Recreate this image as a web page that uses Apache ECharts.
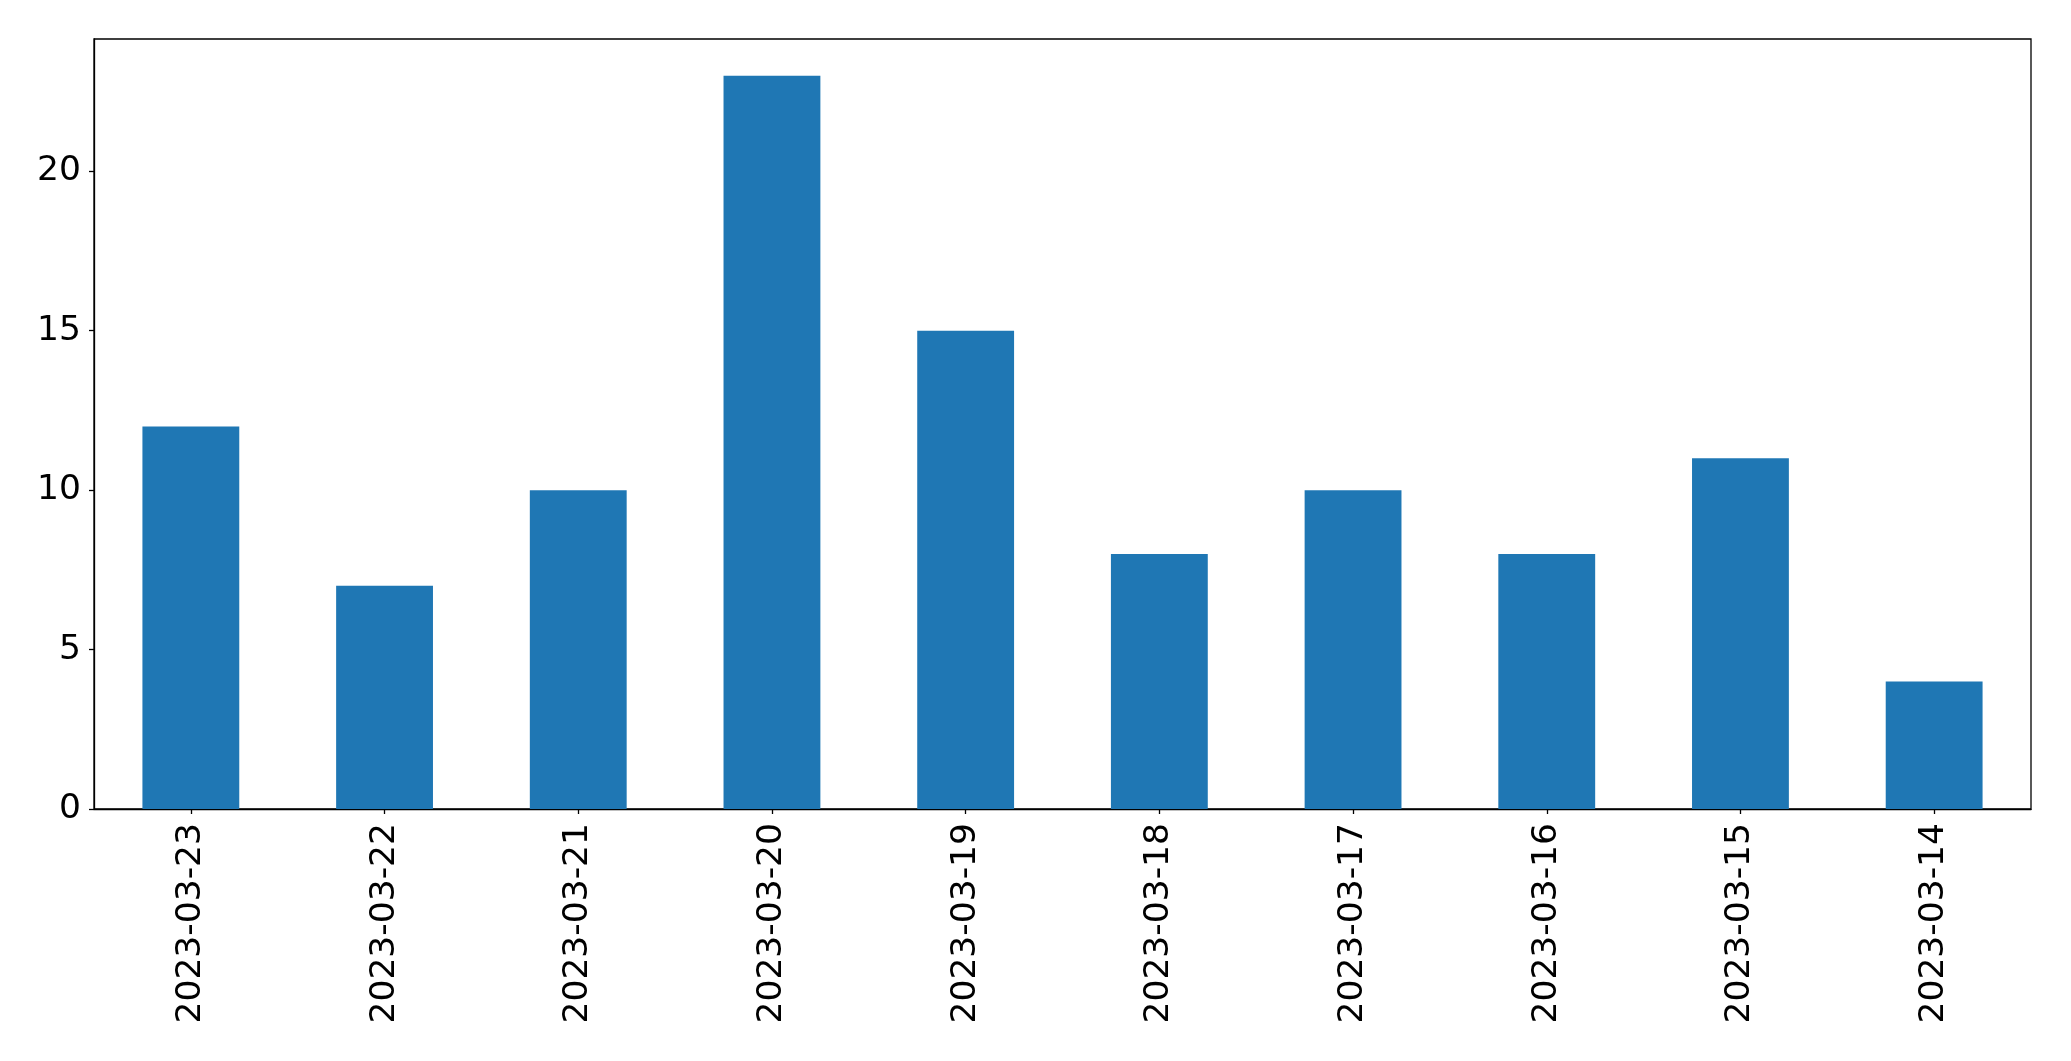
<!DOCTYPE html>
<html>
<head>
<meta charset="utf-8">
<script src="https://cdn.jsdelivr.net/npm/echarts@6/dist/echarts.min.js"></script>
<style>
html,body{margin:0;padding:0;background:#fff;}
#chart{width:2071px;height:1061px;}
</style>
</head>
<body>
<div id="chart"></div>
<script>
const categories = ['2023-03-23','2023-03-22','2023-03-21','2023-03-20','2023-03-19','2023-03-18','2023-03-17','2023-03-16','2023-03-15','2023-03-14'];
const values = [12, 7, 10, 23, 15, 8, 10, 8, 11, 4];
const yTicks = [0, 5, 10, 15, 20];

const chart = echarts.init(document.getElementById('chart'), null, {renderer: 'canvas'});
const font = 'DejaVu Sans';
chart.setOption({
  animation: false,
  backgroundColor: '#ffffff',
  grid: {
    left: 94, right: 40, top: 39, bottom: 252,
    show: true, borderColor: '#000', borderWidth: 1.3, backgroundColor: 'transparent'
  },
  xAxis: {
    type: 'category',
    data: categories,
    boundaryGap: true,
    axisLine: {show: true, lineStyle: {color: '#000', width: 1.3}},
    axisTick: {show: true, alignWithLabel: true, length: 5, lineStyle: {color: '#000', width: 1.3}},
    axisLabel: {
      rotate: 90, margin: 14, fontSize: 34.5, fontFamily: font, color: '#000', interval: 0
    },
    splitLine: {show: false}
  },
  yAxis: {
    type: 'value',
    min: 0,
    max: 24.15,
    axisLine: {show: true, lineStyle: {color: '#000', width: 1.3}},
    axisTick: {show: true, length: 5, customValues: yTicks, lineStyle: {color: '#000', width: 1.3}},
    axisLabel: {margin: 13, fontSize: 34.5, fontFamily: font, color: '#000', customValues: yTicks},
    splitLine: {show: false}
  },
  series: [{
    type: 'bar',
    data: values,
    barWidth: '50%',
    itemStyle: {color: '#1f77b4'}
  }]
});
</script>
</body>
</html>
